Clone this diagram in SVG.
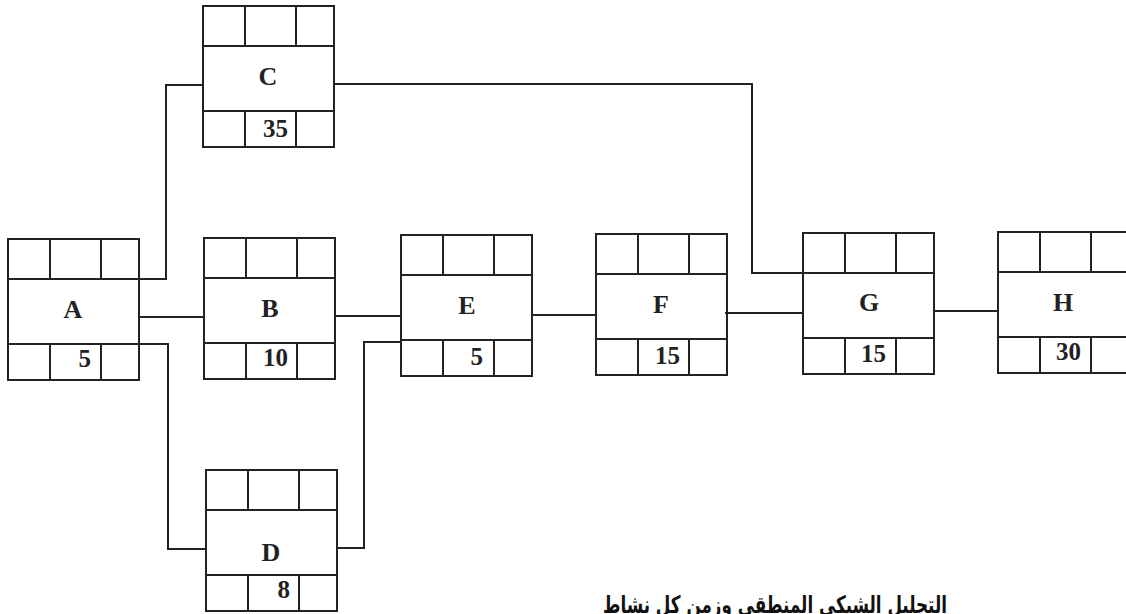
<svg xmlns="http://www.w3.org/2000/svg" width="1126" height="614" viewBox="0 0 1126 614">
<style>
.box{fill:none;stroke:#222;stroke-width:2}
.conn{fill:none;stroke:#222;stroke-width:2}
.lbl{font-family:"Liberation Serif",serif;font-weight:bold;font-size:26px;fill:#222;text-anchor:middle}
.num{font-family:"Liberation Serif",serif;font-weight:bold;font-size:25px;fill:#222;text-anchor:end}
.title{font-family:"DejaVu Sans",sans-serif;font-weight:bold;font-size:24px;fill:#111}
</style>
<defs>
<g id="card">
<rect class="box" x="0" y="0" width="131" height="141"/>
<path class="box" d="M0 40H131M0 105H131M42 0V40M93 0V40M42 105V141M93 105V141"/>
</g>
</defs>
<rect width="1126" height="614" fill="#fff"/>
<g id="connectors">
<path class="conn" d="M139 279H166V85H203"/>
<path class="conn" d="M139 317H204"/>
<path class="conn" d="M139 344H168V549H206"/>
<path class="conn" d="M336 316H401"/>
<path class="conn" d="M338 548H364V342H401"/>
<path class="conn" d="M532 315H596"/>
<path class="conn" d="M725 313H803"/>
<path class="conn" d="M334 84H752V273H803"/>
<path class="conn" d="M935 311H998"/>
</g>
<g id="node-A"><use href="#card" x="8" y="239"/><text class="lbl" x="73" y="318">A</text><text class="num" x="91" y="367">5</text></g>
<g id="node-B"><use href="#card" x="204" y="238"/><text class="lbl" x="270" y="317">B</text><text class="num" x="288" y="366">10</text></g>
<g id="node-C"><use href="#card" x="203" y="6"/><text class="lbl" x="268" y="85">C</text><text class="num" x="288" y="137">35</text></g>
<g id="node-D"><use href="#card" x="206" y="470"/><text class="lbl" x="271" y="561">D</text><text class="num" x="290" y="598">8</text></g>
<g id="node-E"><use href="#card" x="401" y="235"/><text class="lbl" x="467" y="314">E</text><text class="num" x="483" y="365">5</text></g>
<g id="node-F"><use href="#card" x="596" y="234"/><text class="lbl" x="661" y="313">F</text><text class="num" x="680" y="364">15</text></g>
<g id="node-G"><use href="#card" x="803" y="233"/><text class="lbl" x="869" y="311">G</text><text class="num" x="886" y="362">15</text></g>
<g id="node-H"><use href="#card" x="998" y="232"/><text class="lbl" x="1063" y="311">H</text><text class="num" x="1081" y="360">30</text></g>
<text class="title" x="775" y="613" text-anchor="middle" direction="rtl" textLength="344" lengthAdjust="spacingAndGlyphs">التحليل الشبكي المنطقي وزمن كل نشاط</text>
</svg>
